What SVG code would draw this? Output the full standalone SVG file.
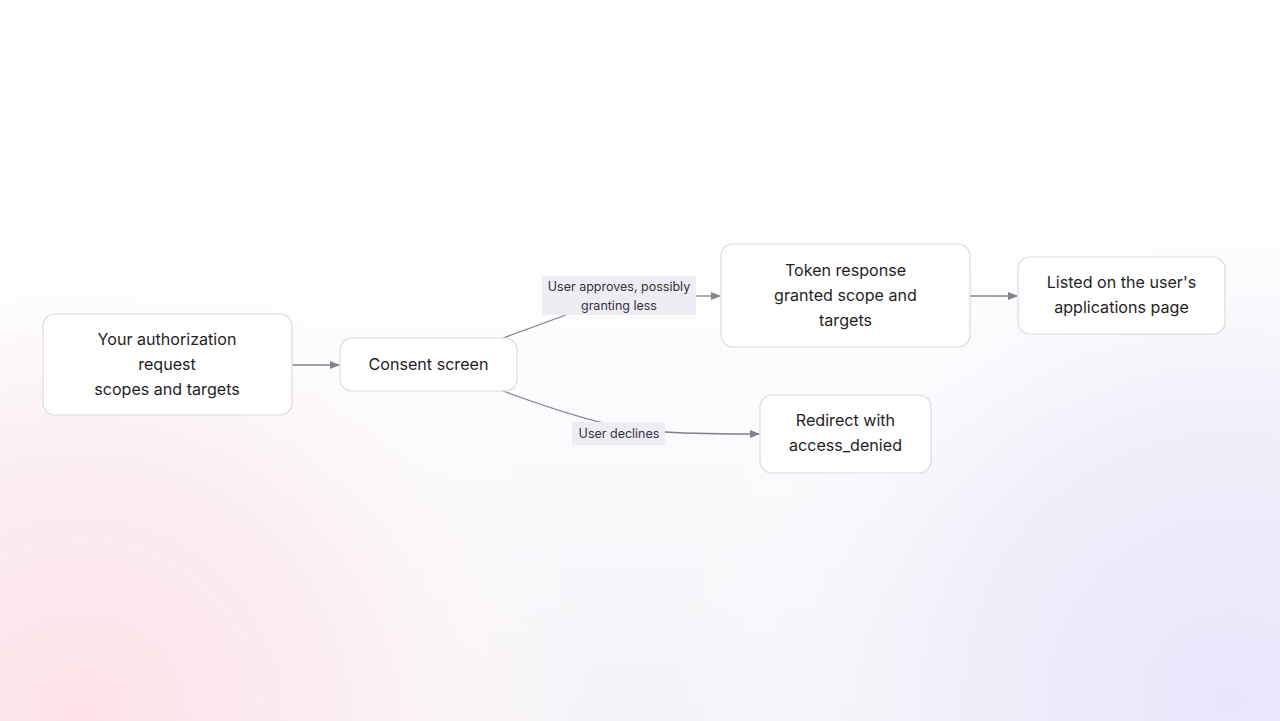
<svg xmlns="http://www.w3.org/2000/svg" width="1280" height="721" viewBox="0 0 1280 721">
<defs>
<radialGradient id="gPink" cx="80" cy="721" r="520" gradientUnits="userSpaceOnUse">
<stop offset="0" stop-color="#fde3e8"/>
<stop offset="0.5" stop-color="#fbeef2"/>
<stop offset="1" stop-color="#ffffff" stop-opacity="0"/>
</radialGradient>
<radialGradient id="gLav" cx="1230" cy="700" r="560" gradientUnits="userSpaceOnUse">
<stop offset="0" stop-color="#e9e6fb"/>
<stop offset="0.5" stop-color="#f1effa"/>
<stop offset="1" stop-color="#ffffff" stop-opacity="0"/>
</radialGradient>
<linearGradient id="gV" x1="0" y1="0" x2="0" y2="1">
<stop offset="0.3" stop-color="#ffffff"/>
<stop offset="1" stop-color="#f6f3f8"/>
</linearGradient>
<marker id="arr" viewBox="0 0 10 10" refX="9" refY="5" markerWidth="10" markerHeight="10" markerUnits="userSpaceOnUse" orient="auto">
<path d="M0,1 L10,5 L0,9 z" fill="#85818c"/>
</marker>
<style>
.node rect{fill:#ffffff;stroke:#dcdae2;stroke-width:1.2}
.node text{font-family:Inter,"Noto Sans",sans-serif;font-size:16.1px;fill:#1f1e24;text-anchor:middle;dominant-baseline:central}
.edge{fill:none;stroke:#85818c;stroke-width:1.3}
.lbl rect{fill:#efedf4}
.lbl text{font-family:Inter,"Noto Sans",sans-serif;font-size:12.5px;fill:#33323a;text-anchor:middle;dominant-baseline:central}
</style>
</defs>
<rect width="1280" height="721" fill="url(#gV)"/>
<rect width="1280" height="721" fill="url(#gPink)"/>
<rect width="1280" height="721" fill="url(#gLav)"/>

<g id="connectors">
<path class="edge" d="M292,365 L339,365" marker-end="url(#arr)"/>
<path class="edge" d="M503,338 L566,315"/>
<path class="edge" d="M696,296 L720,296" marker-end="url(#arr)"/>
<path class="edge" d="M503,391 Q560,412 603,423"/>
<path class="edge" d="M665,432 Q700,434 759,434" marker-end="url(#arr)"/>
<path class="edge" d="M970,296 L1017,296" marker-end="url(#arr)"/>
<g class="lbl" id="label-approve">
<rect x="542" y="276" width="154" height="39"/>
<text x="619" y="286">User approves, possibly</text>
<text x="619" y="305">granting less</text>
</g>
<g class="lbl" id="label-decline">
<rect x="572" y="422" width="93" height="23"/>
<text x="619" y="433">User declines</text>
</g>
</g>

<g class="node" id="n-request">
<rect x="43" y="314" width="249" height="101" rx="12"/>
<text x="167" y="339">Your authorization</text>
<text x="167" y="364">request</text>
<text x="167" y="389">scopes and targets</text>
</g>
<g class="node" id="n-consent">
<rect x="340" y="338" width="177" height="53" rx="12"/>
<text x="428.5" y="364">Consent screen</text>
</g>
<g class="node" id="n-token">
<rect x="721" y="244" width="249" height="103" rx="12"/>
<text x="845.5" y="270">Token response</text>
<text x="845.5" y="295">granted scope and</text>
<text x="845.5" y="320">targets</text>
</g>
<g class="node" id="n-listed">
<rect x="1018" y="257" width="207" height="77" rx="12"/>
<text x="1121.5" y="282">Listed on the user's</text>
<text x="1121.5" y="307">applications page</text>
</g>
<g class="node" id="n-redirect">
<rect x="760" y="395" width="171" height="78" rx="12"/>
<text x="845.5" y="420">Redirect with</text>
<text x="845.5" y="445">access_denied</text>
</g>
</svg>
